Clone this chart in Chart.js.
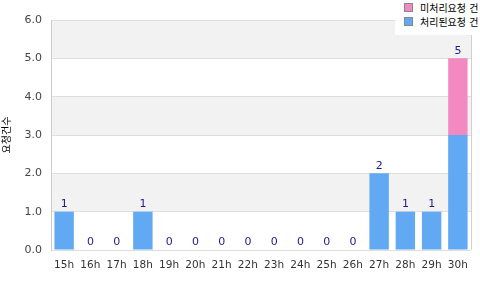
<!DOCTYPE html>
<html>
<head>
<meta charset="utf-8">
<script src="https://cdn.jsdelivr.net/npm/chart.js@4"></script>
<style>
  body { margin:0; background:#fff; }
  #wrap { position:relative; width:480px; height:300px; }
  #legend { position:absolute; left:395px; top:0; width:85px; height:35px; background:#fff;
    font:10px "DejaVu Sans", "Noto Sans CJK KR", sans-serif; color:#000; }
  #legend div { position:absolute; left:9px; height:12px; line-height:12px; white-space:nowrap; }
  #legend span { display:inline-block; width:7px; height:7px; border:1px solid #888; margin-right:7px; vertical-align:0px; }
</style>
</head>
<body>
<div id="wrap">
  <canvas id="c" width="480" height="300"></canvas>
  <div id="legend"></div>
</div>
<script>
// DATA
const hours = ['15h','16h','17h','18h','19h','20h','21h','22h','23h','24h','25h','26h','27h','28h','29h','30h'];
const doneCounts = [1,0,0,1,0,0,0,0,0,0,0,0,2,1,1,3];
const pendingCounts = [0,0,0,0,0,0,0,0,0,0,0,0,0,0,0,2];
const seriesNames = ['처리된요청 건', '미처리요청 건'];
const yTitle = '요청건수';

const BLUE = '#61a9f3', PINK = '#f289c0';

document.getElementById('legend').innerHTML = `
  <div style="top:3px"><span style="background:${PINK}"></span>${seriesNames[1]}</div>
  <div style="top:17px"><span style="background:${BLUE}"></span>${seriesNames[0]}</div>
`;

// alternate bands, right border, totals
const bands = {
  id: 'bands',
  beforeDraw(chart) {
    const { ctx, chartArea: a, scales: { y } } = chart;
    ctx.save();
    ctx.fillStyle = '#f2f2f2';
    for (let v = 1; v < 6; v += 2) {
      const t = y.getPixelForValue(v + 1), b = y.getPixelForValue(v);
      ctx.fillRect(a.left, t, a.right - a.left, b - t);
    }
    ctx.restore();
  },
  afterDatasetsDraw(chart) {
    const { ctx, chartArea: a, scales: { x, y } } = chart;
    ctx.save();
    ctx.strokeStyle = '#d0d0d0';
    ctx.lineWidth = 1;
    ctx.beginPath();
    ctx.moveTo(a.right + 0.5, a.top);
    ctx.lineTo(a.right + 0.5, a.bottom);
    ctx.stroke();
    ctx.font = '11px "DejaVu Sans", sans-serif';
    ctx.fillStyle = '#1c1c8c';
    ctx.textAlign = 'center';
    ctx.textBaseline = 'bottom';
    hours.forEach((h, i) => {
      const tot = doneCounts[i] + pendingCounts[i];
      ctx.fillText(String(tot), x.getPixelForValue(i), y.getPixelForValue(tot) - 2);
    });
    ctx.restore();
  }
};

new Chart(document.getElementById('c'), {
  type: 'bar',
  data: {
    labels: hours,
    datasets: [
      { label: seriesNames[0], data: doneCounts, backgroundColor: BLUE, categoryPercentage: 1, barPercentage: 0.74 },
      { label: seriesNames[1], data: pendingCounts, backgroundColor: PINK, categoryPercentage: 1, barPercentage: 0.74 }
    ]
  },
  options: {
    responsive: false,
    animation: false,
    layout: { padding: { top: 20, right: 9, left: 0, bottom: 0 } },
    plugins: { legend: { display: false }, tooltip: { enabled: false } },
    scales: {
      x: {
        stacked: true,
        grid: { display: false },
        border: { display: false },
        ticks: { color: '#333', font: { family: 'DejaVu Sans', size: 10.5 }, padding: 1, maxRotation: 0, autoSkip: false },
        afterFit: s => { s.height = 50; }
      },
      y: {
        stacked: true,
        min: 0, max: 6,
        grid: { color: '#dedede', drawTicks: false },
        border: { color: '#cccccc' },
        ticks: { stepSize: 1, color: '#444', font: { family: 'DejaVu Sans', size: 11 }, padding: 9,
          callback: v => v.toFixed(1) },
        title: { display: true, text: yTitle, color: '#000', font: { family: '"Noto Sans CJK KR"', size: 10 }, padding: 0 },
        afterFit: s => { s.width = 51; }
      }
    }
  },
  plugins: [bands]
});
</script>
</body>
</html>
